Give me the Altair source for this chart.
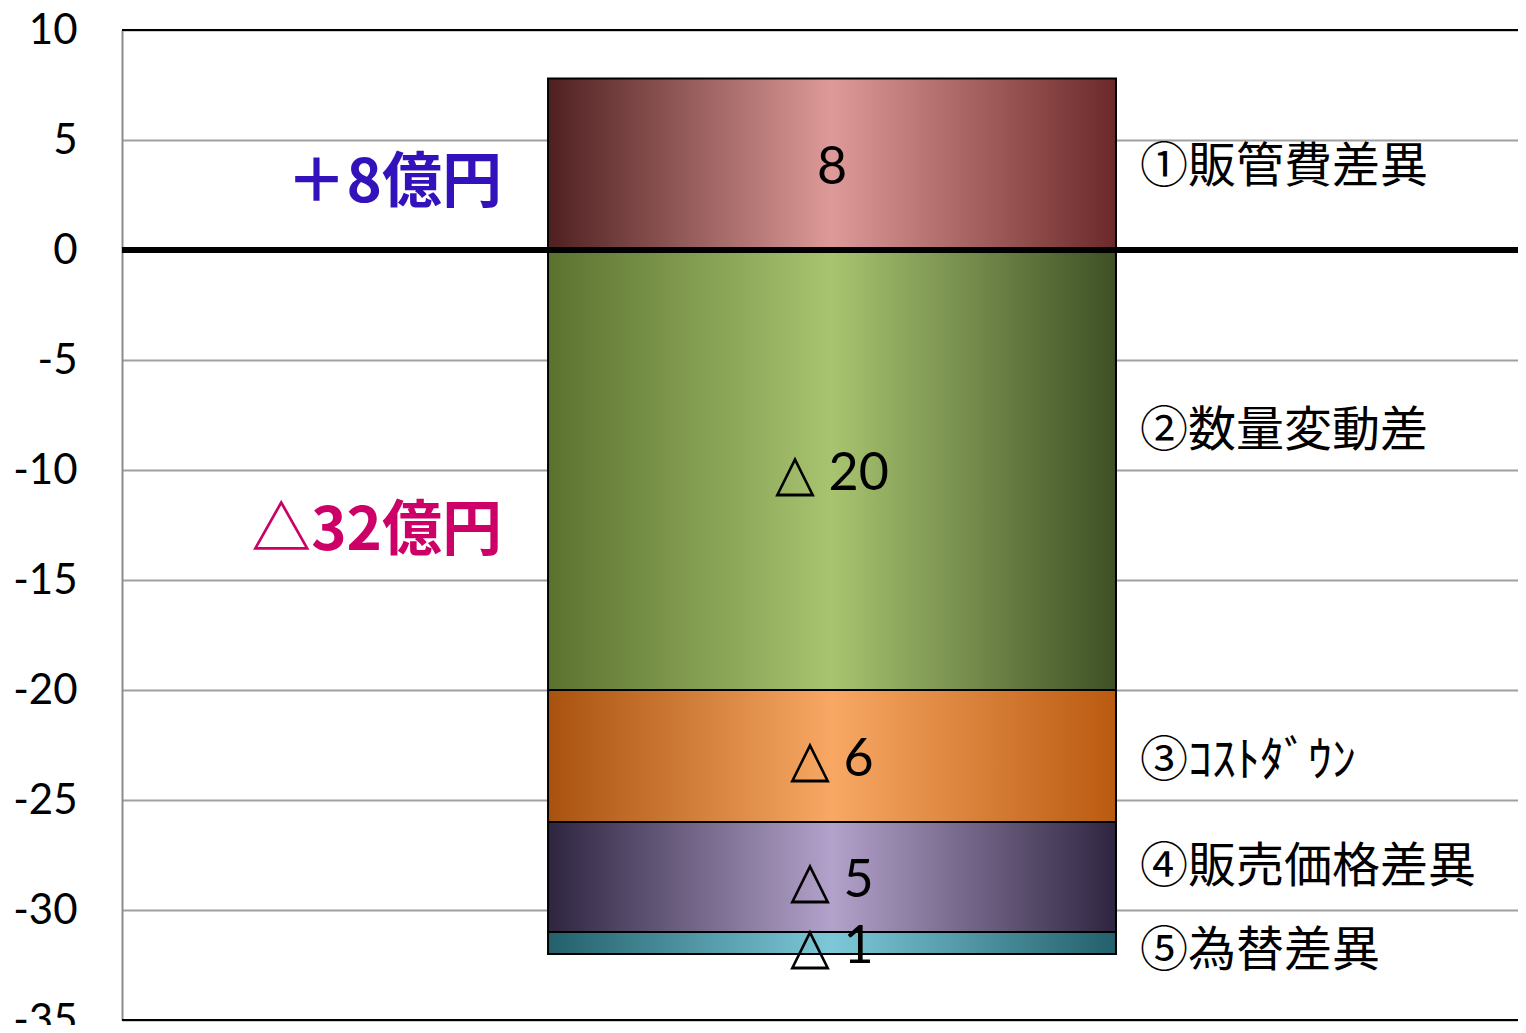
import altair as alt
import pandas as pd

# ---- data ----
names = ["①販管費差異", "②数量変動差", "③ｺｽﾄﾀﾞｳﾝ", "④販売価格差異", "⑤為替差異"]
values = [7.8, -20, -6, -5, -1]
value_labels = ["8", "△ 20", "△ 6", "△ 5", "△ 1"]
name_label_y = [3.8, -8.2, -23.2, -28.0, -31.8]
edge_left = ["#4f2020", "#5b722f", "#a9520f", "#2e2540", "#22606b"]
center_col = ["#dd9a98", "#a8c470", "#f8a864", "#b3a2cb", "#7dc8d8"]
edge_right = ["#6c2929", "#3e5025", "#ba5a10", "#2f2540", "#22606b"]
summary_text = ["＋8億円", "△32億円"]
summary_y = [3.0, -12.8]
summary_colors = ["#3311bb", "#cc0066"]
y_ticks = list(range(-35, 11, 5))

# ---- stacking ----
starts, ends = [], []
pos, neg = 0.0, 0.0
for v in values:
    if v >= 0:
        starts.append(pos); pos += v; ends.append(pos)
    else:
        starts.append(neg); neg += v; ends.append(neg)
mids = [(a + b) / 2 for a, b in zip(starts, ends)]

df = pd.DataFrame({
    "cat": ["bar"] * len(values),
    "idx": list(range(len(values))),
    "name": names,
    "start": starts,
    "end": ends,
    "mid": mids,
    "vlabel": value_labels,
    "name_y": name_label_y,
})
sdf = pd.DataFrame({"text": summary_text, "y": summary_y, "color": summary_colors})

W, H = 1396, 990
yscale = alt.Scale(domain=[-35, 10], nice=False, zero=False)
yaxis = alt.Axis(values=y_ticks, title=None, ticks=False, labelFont="Lato", labelFontSize=42,
                 labelColor="black", labelPadding=45, labelFlush=False, labelOverlap=False,
                 labelBound=False, domainColor="#8c8c8c", domainWidth=2, grid=True,
                 gridColor="#a0a0a0", gridWidth=2, labelExpr="'' + datum.value")
xscale = alt.Scale(paddingOuter=0.729, paddingInner=0, align=0.5145)

layers = []
for i in range(len(values)):
    grad = alt.Gradient(
        gradient="linear",
        stops=[alt.GradientStop(color=edge_left[i], offset=0),
               alt.GradientStop(color=center_col[i], offset=0.5),
               alt.GradientStop(color=edge_right[i], offset=1)],
        x1=0, x2=1, y1=0, y2=0)
    layers.append(
        alt.Chart(df).transform_filter(alt.datum.idx == i)
        .mark_bar(fill=grad, stroke="black", strokeWidth=2)
        .encode(x=alt.X("cat:N", scale=xscale, axis=None),
                y=alt.Y("start:Q", scale=yscale, axis=yaxis),
                y2="end:Q")
    )

zero_rule = alt.Chart(pd.DataFrame({"v": [0]})).mark_rule(color="black", strokeWidth=6).encode(
    y=alt.Y("v:Q", scale=yscale, axis=yaxis))
edge_rules = alt.Chart(pd.DataFrame({"v": [10, -35]})).mark_rule(color="black", strokeWidth=2).encode(
    y=alt.Y("v:Q", scale=yscale, axis=yaxis))

bar_text = alt.Chart(df).mark_text(font="Lato", fontSize=52, baseline="middle", align="center",
                                   color="black", dy=4).encode(
    x=alt.value(710), y=alt.Y("mid:Q", scale=yscale, axis=yaxis), text="vlabel:N")

name_text = alt.Chart(df).mark_text(font="Noto Sans CJK JP", fontSize=48, baseline="middle",
                                    align="left", color="black", dy=2).encode(
    x=alt.value(1018), y=alt.Y("name_y:Q", scale=yscale, axis=yaxis), text="name:N")

summary = alt.Chart(sdf).mark_text(font="Noto Sans CJK JP", fontSize=60, fontWeight="bold",
                                   baseline="middle", align="right").encode(
    x=alt.value(380), y=alt.Y("y:Q", scale=yscale, axis=yaxis), text="text:N",
    color=alt.Color("color:N", scale=None))

chart = alt.layer(*layers, zero_rule, edge_rules, bar_text, name_text, summary).properties(
    width=W, height=H,
    autosize=alt.AutoSizeParams(type="none"),
    padding={"left": 114, "top": 22, "right": 0, "bottom": 5},
).configure_view(stroke=None).configure(background="white")

chart.save("out.html", embed_options={"renderer": "svg", "actions": False})
